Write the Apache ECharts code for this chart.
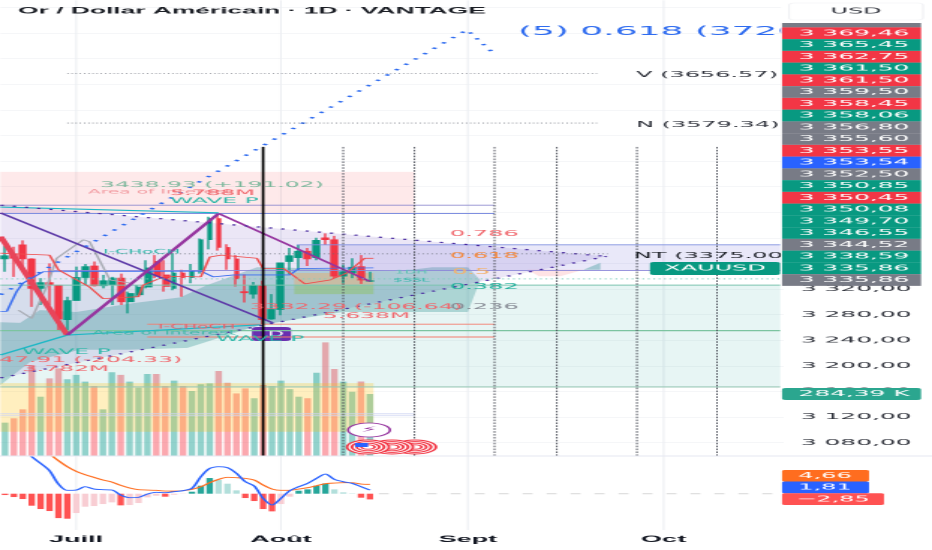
<!DOCTYPE html>
<html><head><meta charset="utf-8">
<style>html,body{margin:0;padding:0;background:#fff;overflow:hidden;width:932px;height:550px}
#c{width:311px;height:550px;transform-origin:0 0;transform:scaleX(2.99678)}</style>
<script src="https://cdn.jsdelivr.net/npm/echarts@6/dist/echarts.min.js"></script>
</head><body><div id="c"></div>
<script>
// ---------- data ----------
const opens =[3367,3375,3389,3367,3321,3330,3326,3272,3302,3338,3356,3325,3326,3337,3300,3311,3323,3363,3342,3321,3345,3338,3348,3397,3430,3385,3367,3316,3312,3325,3273,3288,3363,3369,3379,3369,3400,3397,3340,3345,3355,3332];
const closes=[3372,3368,3367,3321,3330,3327,3273,3302,3338,3355,3325,3333,3337,3300,3313,3323,3353,3340,3324,3345,3338,3348,3397,3430,3385,3367,3336,3314,3325,3272,3288,3361,3372,3379,3367,3396,3397,3340,3347,3354,3334,3333];
const lows  =[3347,3339,3355,3292,3295,3295,3256,3248,3302,3326,3324,3321,3295,3295,3282,3308,3321,3337,3316,3318,3308,3329,3344,3382,3380,3350,3324,3299,3305,3265,3272,3279,3343,3349,3356,3365,3389,3337,3329,3337,3328,3331];
const highs =[3387,3386,3396,3368,3337,3360,3326,3308,3355,3359,3363,3342,3339,3344,3316,3326,3365,3373,3365,3376,3350,3359,3399,3433,3438,3390,3373,3343,3331,3333,3312,3361,3384,3389,3384,3400,3407,3403,3358,3368,3373,3347];
const volumes=[153,173,214,417,272,356,402,352,372,341,321,214,384,372,341,313,376,376,321,346,321,298,329,333,390,336,287,310,265,326,321,346,307,272,265,382,521,399,341,295,342,284.39];
const macdLine=[31.83,28.5,22.67,18.5,15.17,11.5,4.83,1.67,1.83,3.5,2.33,2,1.83,-0.67,-2,-1.83,-0.17,0.67,0.5,1,1.5,2.67,8.5,12.67,13.5,13,10.17,6,3.83,-2.33,-5.67,-2.33,1.5,3.5,5.17,7.67,9.83,7.17,6,5.17,3.5,1.81];
const signalLine=[35.17,32.67,29.33,26,22.67,19.83,16.5,13.5,11.17,9.5,8.17,6.83,5.83,4.17,2.83,2,1.83,1.67,1.33,1.33,1.5,2.17,3.5,5.5,7.17,8.17,8,7.67,6.83,4.33,2.33,1.67,1.67,2.33,3,4,5,5.33,5.5,5.5,4.83,4.66];
const histogram=[-0.67,-1.67,-2.67,-6,-7.67,-8.67,-12.2,-12.5,-9.67,-6.5,-6.17,-5.17,-4.33,-5.83,-5.67,-4.67,-1.83,-1,-1.5,-0.5,-0.1,1,4,7.83,6.83,5,1.67,-2.17,-3.67,-7.67,-8.83,-5.17,-1.5,1.5,2.17,4,5.17,2.17,0.67,0.17,-2,-2.85];
const monthLabels={8:'Juill',31:'Août',52:'Sept',74:'Oct'};
const dayCount=88;
const categories=Array.from({length:dayCount},(_,i)=>'j'+i);
const priceTicksShownBelow=3320;
const tagValues=['3 369,46','3 365,45','3 362,75','3 361,50','3 361,50','3 359,50','3 358,45','3 358,06','3 356,80','3 355,60','3 353,55','3 353,54','3 352,50','3 350,85','3 350,45','3 350,08','3 349,70','3 346,55','3 344,52','3 338,59','3 335,86','3 335,86'];
const tagKinds=['r','g','r','g','r','k','r','g','k','k','r','b','k','g','r','g','g','g','k','g','g','k'];
// overlay drawings, as [day index, price]
const targetPath=[[-0.5,3311],[51.9,3725],[55,3687]];
const levelV=[[7,3656.57],[66.5,3656.57]];
const levelN=[[7,3579.34],[66.5,3579.34]];
const levelNT=[[7,3375],[67.7,3375]];
const lastPrice=[[-0.5,3335.86],[87.1,3335.86]];
const wedgeTop=[[-0.5,3451],[67.6,3371]];
const wedgeBottom=[[-0.5,3181],[67.6,3371]];
const zigUp=[[7,3248],[24,3438]];
const zigDown=[[24,3438],[41,3332]];
const zigIn=[[-0.5,3402],[7,3248]];
const channelLine=[[-0.5,3439],[30.1,3267]];
const cyanHigh=[[-0.5,3448],[24,3439]];
const cyanLow=[[-0.5,3217],[7,3248],[28.7,3264]];
const smaRed=[[-0.5,3376],[5,3373],[6,3350],[9.5,3323],[11,3305],[15,3308],[15.5,3326],[18,3340],[22,3339],[23,3370],[24.3,3373],[28.3,3368],[29,3352],[31.3,3352],[33.7,3328],[36.5,3334],[38.4,3345],[40.4,3368],[41.4,3368]];
const smaBlue=[[-0.5,3285],[0.2,3285],[1.3,3316],[2,3329],[4.3,3347],[22,3348],[23.4,3339],[25.7,3342],[32,3342],[33,3352],[41.4,3353]];
const smaGray=[[1.5,3287],[3,3274],[4.7,3324],[5.8,3368],[8.8,3397],[9.5,3394],[11.8,3334],[14.2,3329]];
const lineHigh1=[[-0.5,3451],[55,3451]];
const lineHigh2=[[-0.5,3438],[55,3438]];
const lineLow1=[[16,3265],[55,3265]];
const lineLow2=[[16,3245],[55,3245]];
const lineGreen1=[[-0.5,3326],[87.1,3326]];
const lineGreen2=[[-0.5,3255],[87.1,3255]];
const lineGreen3=[[-0.5,3167],[87.1,3167]];
const bandTop=[[32.8,3389],[87.1,3389]];
const bandBottom=[[5,3349],[87.1,3349]];
const volBlue1=[[-0.5,3125],[46,3125]];
const volBlue2=[[-0.5,3122],[46,3122]];
const verticalDays=[38,46,55,62,71,80];
const cursorDay=29;
const monthDays=[8,31,52,74];
const pinkZone=[[-0.5,3503],[46,3503],[46,3439],[-0.5,3439]];
const greenZone=[[-0.5,3326],[87.1,3326],[87.1,3167],[-0.5,3167]];
const ntZone=[[32.8,3389],[87.1,3389],[87.1,3349],[32.8,3349]];
const tanZone=[[32.5,3345],[41.4,3345],[41.4,3326],[32.5,3326]];
const oliveZone=[[32.5,3326],[41.4,3326],[41.4,3312],[32.5,3312]];
const volZone=[[-0.5,3173],[41.4,3173],[41.4,3097],[-0.5,3097]];
const wedgeZone=[[-0.5,3451],[67.6,3371],[-0.5,3181]];
const cloudZone=[[-0.5,3268],[1.7,3267],[3.9,3287],[8,3284],[14.4,3298],[19.7,3307],[22.7,3326],[28.3,3354],[30.6,3354],[38,3350],[44.4,3348],[48,3354],[52,3354],[53.4,3334],[52,3284],[38,3284],[28.7,3264],[20.5,3228],[13.7,3225],[8.4,3225],[2.8,3206],[-0.5,3170]];
const pinkSliver=[[58.7,3350],[65,3350],[62.4,3340],[60,3340]];
const tealSliver=[[65,3350],[66.9,3361],[66.9,3350]];

// ---------- layout helpers ----------
const SX=932/311;            // page is stretched horizontally like the reference
const X=px=>px/SX;
const UP='#089981',DOWN='#f23645';
const FONT='"DejaVu Sans"';
const tagColor={r:'#f23645',g:'#089981',k:'#787b86',b:'#2962ff'};
const gLeft=X(0.55),gWidth=X(783.2);

const zones=[
 [pinkZone,'rgba(247,82,95,0.13)'],[greenZone,'rgba(38,166,154,0.11)'],
 [wedgeZone,'rgba(103,58,183,0.13)'],[cloudZone,'rgba(38,140,140,0.30)'],
 [ntZone,'rgba(98,90,210,0.14)'],[tanZone,'rgba(255,160,60,0.32)'],[oliveZone,'rgba(139,195,74,0.38)'],
 [volZone,'rgba(255,193,7,0.26)'],[pinkSliver,'rgba(247,82,95,0.16)'],[tealSliver,'rgba(38,140,140,0.35)']
];
const lines=[
 [lineHigh1,'#8f8ccf',0.9],[lineHigh2,'#7f8fe0',0.9],[lineLow1,'#f47c6c',0.9],[lineLow2,'#f47c6c',0.9],
 [lineGreen1,'#7cc4b0',1],[lineGreen2,'#7cc4a0',1.2],[lineGreen3,'#9bc9b8',1.2],
 [bandTop,'#7f8fe0',0.9],[bandBottom,'#8b86d8',0.8],[volBlue1,'#cfd6f2',0.8],[volBlue2,'#cfd6f2',0.8],
 [smaGray,'#a9adb5',0.8],[smaBlue,'#3b6ff0',0.8],[smaRed,'#ef4f4f',0.8],
 [cyanHigh,'#1db8c6',1.1],[cyanLow,'#1db8c6',1.1],
 [zigIn,'#e8455a',2.2],[channelLine,'#5e3ba8',1.2],[zigUp,'#96359f',1.5],[zigDown,'#96359f',1.2],
 [wedgeTop,'#4a2ca0',1.2,[1.1,3.1]],[wedgeBottom,'#4a2ca0',1.2,[1.1,3.1]],
 [targetPath,'#2f6cf0',1.5,[1.4,4.8]],
 [levelV,'#555a66',0.8,[0.35,1.05]],[levelN,'#555a66',0.8,[0.35,1.05]],[levelNT,'#666b75',0.9,[0.4,1.1]],
 [lastPrice,'#7fd0c0',1,[0.6,1.2]]
];
const overlaySeries=lines.map(([pts,color,width,dash])=>({
 type:'line',xAxisIndex:1,yAxisIndex:0,data:pts,symbol:'none',silent:true,z:6,
 lineStyle:{color,width,type:dash||'solid'}
}));
const verticalSeries=verticalDays.map(d=>({
 type:'line',xAxisIndex:1,yAxisIndex:0,data:[[d,3542],[d,3059]],symbol:'none',silent:true,z:7,
 lineStyle:{color:'#4d505a',width:0.5,type:[1.6,1.3]}
}));
const cursorSeries={type:'line',xAxisIndex:1,yAxisIndex:0,data:[[cursorDay,3542],[cursorDay,3059]],symbol:'none',silent:true,z:8,lineStyle:{color:'#000',width:0.85}};
const monthSeries=monthDays.map(d=>({
 type:'line',xAxisIndex:1,yAxisIndex:0,data:[[d,3771],[d,3059]],symbol:'none',silent:true,z:0,lineStyle:{color:'#edeff3',width:0.55}
})).concat(monthDays.map(d=>({
 type:'line',xAxisIndex:3,yAxisIndex:2,data:[[d,18.85],[d,-18.15]],symbol:'none',silent:true,z:0,lineStyle:{color:'#edeff3',width:0.55}
})));

function T(x,y,text,fill,size,extra){return Object.assign({type:'text',silent:true,z:30,style:{x:X(x),y,text,fill,font:(extra&&extra.weight||'normal')+' '+size+'px '+((extra&&extra.family)||FONT),align:(extra&&extra.align)||'left',verticalAlign:'middle'}},extra&&extra.z?{z:extra.z}:{});}
function R(x0,y0,x1,y1,fill,r,z,stroke){return {type:'rect',silent:true,z:z||40,shape:{x:X(x0),y:y0,width:X(x1-x0),height:y1-y0,r:r||0},style:{fill,stroke:stroke||null,lineWidth:stroke?0.6:0}};}
const graphics=[];
// annotations
graphics.push(
 T(18,11,'Or / Dollar Américain · 1D · VANTAGE','#1d2027',8.8,{weight:'bold',family:'"Liberation Sans"'}),
 T(518,32,'(5) 0.618 (3720.00)','#2f6cf0',12),
 T(636,75,'V (3656.57)','#30333c',8),
 T(636,125,'N (3579.34)','#30333c',8),
 T(634,256,'NT (3375.00)','#1d2027',8),
 T(100,185,'3438.93 (+191.02)','#7cb89c',7.8),
 T(88,192,'Area of Interest','#f29aa0',6.2),
 T(170,193,'5.788M','#f0666c',7.6),
 T(170,201,'WAVE P','#2cb7a8',7.8),
 T(103,252,'I-CHoCH','#2cb7a8',6.2),
 T(250,307,'3332.29 (-106.64)','#f0666c',7.8),
 T(323,316,'5.638M','#f0666c',7.8),
 T(158,327,'I-CHoCH','#e8606a',6.2),
 T(92,333,'Area of Interest','#3fb8a8',6.2),
 T(216,339,'WAVE P','#2cb7a8',7.8),
 T(22,352,'WAVE P','#2cb7a8',7.8),
 T(182,360,'3247.91 (-204.33)','#f0666c',7.8,{align:'right'}),
 T(22,369,'3.782M','#f0666c',7.8),
 T(450,234,'0.786','#f0666c',8),
 T(450,256,'0.618','#f5893c',8),
 T(452,272,'0.5','#f4b26a',8),
 T(450,287,'0.382','#1fae9a',8),
 T(450,307,'0.236','#868a94',8),
 T(395,272,'1DH','#5cc3b4',5),
 T(393,280,'$SSL','#2cb7a8',5)
);
// purple badge and event markers
graphics.push(
 {type:'rect',silent:true,z:5,shape:{x:X(252),y:327,width:X(39),height:14,r:2},style:{fill:'#6a2fb0'}},
 T(268,334,'D','#ffffff',7,{z:5}),
 {type:'circle',silent:true,z:31,shape:{cx:X(369),cy:430,r:7},style:{fill:'#fff',stroke:'#96359f',lineWidth:0.8}},
 T(369,430,'⚡','#96359f',8,{align:'center',z:32})
);
[415,392,368].forEach((cx,k)=>{[7,5.4,3.8,2.2].forEach((r,j)=>{
 graphics.push({type:'circle',silent:true,z:31+k,shape:{cx:X(cx),cy:447,r},style:{fill:'#fff',stroke:'#f23645',lineWidth:0.9}});
});});
graphics.push({type:'rect',silent:true,z:34,shape:{x:X(355),y:443,width:X(13),height:4},style:{fill:'#2962ff'}});
// right scale background and tags
graphics.push(R(781,0,932,283,'#ffffff',0,38));
graphics.push(R(789,3,923,20,'#ffffff',2,39,'#f0f1f4'));
graphics.push(T(856,11.5,'USD','#30333c',8,{align:'center',z:41}));
graphics.push(R(782,23,921,27.4,'#787b86',0,39));
tagValues.forEach((v,i)=>{
 const cy=33.2+i*11.75;
 graphics.push(R(782,cy-5.88,921,cy+5.88,tagColor[tagKinds[i]],0,40));
 graphics.push(T(854,cy,v,'#ffffff',8.3,{align:'center',z:42}));
});
graphics.push(R(650,262,780,275,'#089981',1.5,40));
graphics.push(T(715,268.5,'XAUUSD','#ffffff',8,{align:'center',z:42}));
graphics.push(R(782,388,921,400,'#2ba68f',1.5,40));
graphics.push(T(854,394,'284,39 K','#ffffff',8.3,{align:'center',z:42}));
graphics.push(R(782,470,869,481.5,'#ff6d1f',1,40));
graphics.push(T(825,475.7,'4,66','#ffffff',8,{align:'center',z:42}));
graphics.push(R(782,481.5,869,493.3,'#2962ff',1,40));
graphics.push(T(825,487.4,'1,81','#ffffff',8,{align:'center',z:42}));
graphics.push(R(782,493.3,884,505,'#ff5252',1,40));
graphics.push(T(833,499.2,'−2,85','#ffffff',8,{align:'center',z:42}));
// pane separator
graphics.push({type:'line',silent:true,z:20,shape:{x1:0,y1:456,x2:X(932),y2:456},style:{stroke:'#e6e8f2',lineWidth:1}});

const chart=echarts.init(document.getElementById('c'),null,{width:311,height:550,devicePixelRatio:2});
chart.setOption({
 animation:false,backgroundColor:'#fff',
 grid:[
  {left:gLeft,width:gWidth,top:0,height:468.2},
  {left:gLeft,width:gWidth,top:0,height:456},
  {left:gLeft,width:gWidth,top:456,height:74}
 ],
 xAxis:[
  {type:'category',gridIndex:0,data:categories,show:false},
  {type:'value',gridIndex:0,min:-0.5,max:87.5,show:false},
  {type:'category',gridIndex:1,data:categories,show:false},
  {type:'value',gridIndex:2,min:-0.5,max:87.5,show:false,position:'top'},
  {type:'category',gridIndex:2,position:'bottom',data:categories,
   axisLine:{show:false},axisTick:{show:false},splitLine:{show:false},
   axisLabel:{interval:i=>monthLabels[i]!==undefined,formatter:(v,i)=>monthLabels[i]||'',color:'#131722',fontFamily:'"Liberation Sans"',fontWeight:'bold',fontSize:9,margin:5}}
 ],
 yAxis:[
  {type:'value',gridIndex:0,position:'right',min:3040,max:3771.6,interval:40,
   axisLine:{show:false},axisTick:{show:false},
   splitLine:{show:true,showMinLine:false,showMaxLine:false,lineStyle:{color:'#f2f3f6',width:0.8}},
   axisLabel:{margin:5.7,color:'#30333c',fontFamily:FONT,fontSize:8.3,
    formatter:v=>v>priceTicksShownBelow||v<=3040?'':String(v).charAt(0)+' '+String(v).slice(1)+',00'}},
  {type:'value',gridIndex:1,min:0,max:2092,show:false},
  {type:'value',gridIndex:2,min:-18.15,max:18.85,show:false}
 ],
 graphic:{elements:graphics},
 series:[
  ...monthSeries,
  {type:'bar',xAxisIndex:2,yAxisIndex:1,barWidth:X(6.6),z:1,silent:true,
   data:volumes.map((v,i)=>({value:v,itemStyle:{color:closes[i]>=opens[i]?'rgba(38,166,154,0.5)':'rgba(247,82,95,0.5)'}}))},
  {type:'custom',xAxisIndex:1,yAxisIndex:0,coordinateSystem:'cartesian2d',silent:true,z:2,
   data:zones.map((_,i)=>[i]),encode:{x:-1,y:-1},clip:false,
   renderItem:(p,api)=>{const [pts,fill]=zones[p.dataIndex];
     return {type:'polygon',shape:{points:pts.map(q=>api.coord(q))},style:{fill}};}},
  ...overlaySeries,
  {type:'candlestick',xAxisIndex:0,yAxisIndex:0,barWidth:X(6.8),z:5,silent:true,
   data:opens.map((o,i)=>[o,closes[i],lows[i],highs[i]]),
   itemStyle:{color:UP,color0:DOWN,borderColor:UP,borderColor0:DOWN,borderWidth:0.65}},
  ...verticalSeries,cursorSeries,
  {type:'bar',xAxisIndex:4,yAxisIndex:2,barWidth:X(6.4),z:3,silent:true,
   data:histogram.map((v,i)=>{const prev=i?histogram[i-1]:0;const rising=v>=prev;
     return {value:v,itemStyle:{color:v>=0?(rising?'#26a69a':'#b2dfdb'):(rising?'#f8cdd3':'#ff5252')}};})},
  {type:'line',xAxisIndex:4,yAxisIndex:2,data:signalLine,symbol:'none',smooth:0.3,z:4,silent:true,lineStyle:{color:'#ff6d1f',width:0.9}},
  {type:'line',xAxisIndex:4,yAxisIndex:2,data:macdLine,symbol:'none',smooth:0.3,z:5,silent:true,lineStyle:{color:'#2962ff',width:0.9}},
  {type:'line',xAxisIndex:3,yAxisIndex:2,data:[[42,0],[87.1,0]],symbol:'none',z:2,silent:true,lineStyle:{color:'#dcdcdc',width:1.1,type:[3.3,4.7]}}
 ]
});
</script></body></html>
